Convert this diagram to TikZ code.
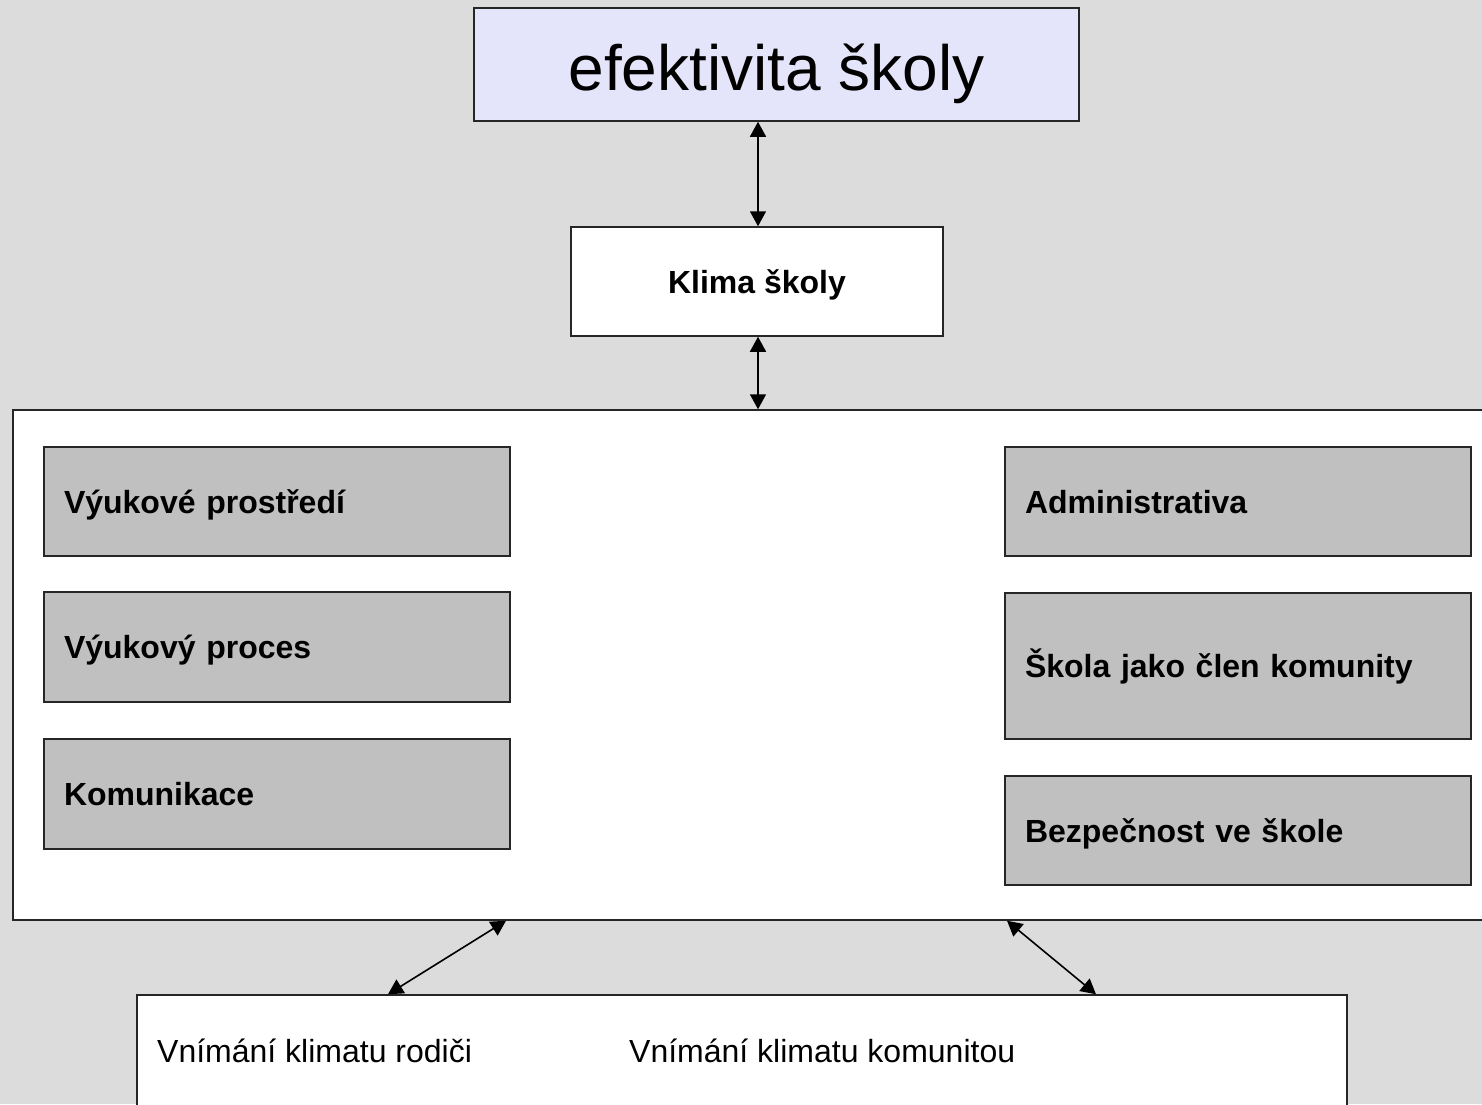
\documentclass[tikz,border=0pt]{standalone}
\usepackage{fontspec}
\setmainfont{Liberation Sans}
\usetikzlibrary{arrows.meta}
\definecolor{bg}{RGB}{220,220,220}
\definecolor{lav}{RGB}{228,228,250}
\definecolor{gbox}{RGB}{192,192,192}
\begin{document}
\begin{tikzpicture}[x=1pt,y=-1pt,
  box/.style={draw=black!85,line width=1.5pt,rectangle,inner sep=0pt},
  graybox/.style={box,fill=gbox,minimum width=466pt,text width=426pt,inner xsep=20pt,align=left,text height=23pt,text depth=0pt,font=\fontsize{32}{38}\selectfont\bfseries},
  conn/.style={line width=1.6pt,{Triangle[length=15pt,width=16pt]}-{Triangle[length=15pt,width=16pt]}}]
\useasboundingbox (0,0) rectangle (1482,1104);
\clip (0,0) rectangle (1482,1104);
\fill[bg] (0,0) rectangle (1482,1104);

\node[box,fill=lav,minimum width=605pt,minimum height=113pt,text height=60pt,text depth=9pt,font=\fontsize{64}{70}\selectfont] (eff) at (776.5,64.5) {efektivita školy};
\node[box,fill=white,minimum width=372pt,minimum height=109pt,text height=23pt,text depth=0pt,font=\fontsize{32}{38}\selectfont\bfseries] (klima) at (757,281.5) {Klima školy};
\node[box,fill=white,minimum width=1487pt,minimum height=510pt] (main) at (756.5,665) {};

\node[graybox,minimum height=109pt] (vp) at (277,501.5) {Výukové prostředí};
\node[graybox,minimum height=110pt] (vpr) at (277,647) {Výukový proces};
\node[graybox,minimum height=110pt] (kom) at (277,794) {Komunikace};
\node[graybox,minimum height=109pt] (adm) at (1238,501.5) {Administrativa};
\node[graybox,minimum height=146pt] (skk) at (1238,666) {Škola jako člen komunity};
\node[graybox,minimum height=109pt] (bez) at (1238,830.5) {Bezpečnost ve škole};

\node[box,fill=white,minimum width=1210pt,minimum height=130pt] (bot) at (742,1060) {};
\node[anchor=base west,inner sep=0pt,font=\fontsize{32}{38}\selectfont] (rod) at (157,1062) {Vnímání klimatu rodiči};
\node[anchor=base west,inner sep=0pt,font=\fontsize{32}{38}\selectfont] (komu) at (629,1062) {Vnímání klimatu komunitou};

\coordinate (xa) at (758,0);
\coordinate (x1) at (506,0);
\coordinate (x2) at (388,0);
\coordinate (x3) at (1007,0);
\coordinate (x4) at (1096,0);

\draw[conn] (eff.south -| xa) -- (klima.north -| xa);
\draw[conn] (klima.south -| xa) -- (main.north -| xa);
\draw[conn] (main.south -| x1) -- (bot.north -| x2);
\draw[conn] (main.south -| x3) -- (bot.north -| x4);
\end{tikzpicture}
\end{document}
